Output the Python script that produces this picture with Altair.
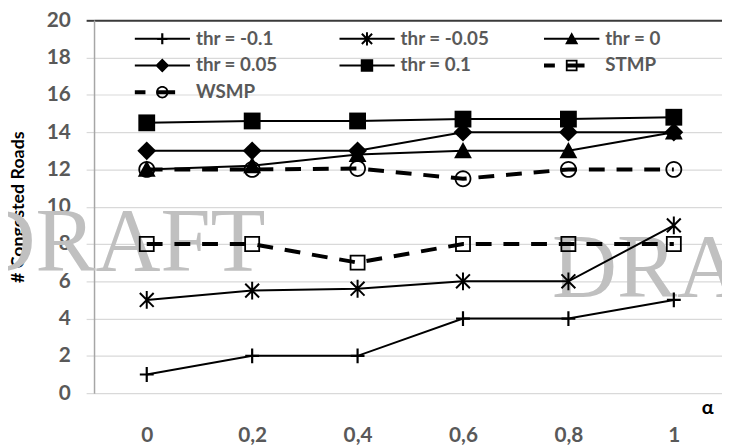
import math
import altair as alt
import pandas as pd

# ---------------- data ----------------
alphas = [0, 0.2, 0.4, 0.6, 0.8, 1.0]
series_names = ["thr = -0.1", "thr = -0.05", "thr = 0", "thr = 0.05",
                "thr = 0.1", "STMP", "WSMP"]
thr_m010 = [1, 2, 2, 4, 4, 5]
thr_m005 = [5, 5.5, 5.6, 6, 6, 9]
thr_000 = [12, 12.2, 12.8, 13, 13, 14]
thr_005 = [13, 13, 13, 14, 14, 14]
thr_010 = [14.5, 14.6, 14.6, 14.7, 14.7, 14.8]
stmp = [8, 8, 7, 8, 8, 8]
wsmp = [12, 12, 12.05, 11.5, 12, 12]
series_values = [thr_m010, thr_m005, thr_000, thr_005, thr_010, stmp, wsmp]
dashed_series = ["STMP", "WSMP"]
y_ticks = list(range(0, 21, 2))
x_ticks = alphas
watermark = "DRAFT"

rows = []
for name, vals in zip(series_names, series_values):
    for a, v in zip(alphas, vals):
        rows.append({"alpha": a, "value": v, "series": name})
df = pd.DataFrame(rows)

# ---------------- marker path helpers (style only) ----------------
def _area(p):
    n = len(p)
    return sum(p[i][0] * p[(i + 1) % n][1] - p[(i + 1) % n][0] * p[i][1] for i in range(n))

def _path(p, u, hole=False):
    a = _area(p)
    if (a < 0) != hole:
        p = p[::-1]
    return "M" + "L".join(f"{x / u:.4f},{y / u:.4f}" for x, y in p) + "Z"

def rect(x0, y0, x1, y1):
    return [(x0, y0), (x1, y0), (x1, y1), (x0, y1)]

def seg(xa, ya, xb, yb, w):
    dx, dy = xb - xa, yb - ya
    L = math.hypot(dx, dy)
    nx, ny = -dy / L * w / 2, dx / L * w / 2
    return [(xa + nx, ya + ny), (xb + nx, yb + ny), (xb - nx, yb - ny), (xa - nx, ya - ny)]

def circ(r, n=40):
    return [(r * math.cos(2 * math.pi * i / n), r * math.sin(2 * math.pi * i / n)) for i in range(n)]

def build(parts, holes, u):
    return "".join(_path(p, u) for p in parts) + "".join(_path(h, u, hole=True) for h in holes)

def marker_parts(k, s):
    if k == 0:
        return [rect(-7 * s, -1.1, 7 * s, 1.1), rect(-1.1, -7.5 * s, 1.1, 7.5 * s)], []
    if k == 1:
        return [seg(-7 * s, -7 * s, 7 * s, 7 * s, 2), seg(-7 * s, 7 * s, 7 * s, -7 * s, 2),
                rect(-1, -9 * s, 1, 9 * s)], []
    if k == 2:
        return [[(0, -9 * s), (9 * s, 7.5 * s), (-9 * s, 7.5 * s)]], []
    if k == 3:
        return [[(0, -9.5 * s), (9.5 * s, 0), (0, 9.5 * s), (-9.5 * s, 0)]], []
    if k == 4:
        return [rect(-8.5 * s, -8.5 * s, 8.5 * s, 8.5 * s)], []
    if k == 5:
        return [rect(-8 * s, -8 * s, 8 * s, 8 * s)], [rect(-8 * s + 1.8, -8 * s + 1.8, 8 * s - 1.8, 8 * s - 1.8)]
    return [circ(8.5 * s)], [circ(8.5 * s - 1.8)]

U_CHART = 10.0           # px per path unit for chart markers (size = (2u)^2)
U_LEG = 28.0             # px per path unit for legend symbols
chart_shapes, legend_shapes = [], []
for k, name in enumerate(series_names):
    parts, holes = marker_parts(k, 1.0)
    chart_shapes.append(build(parts, holes, U_CHART))
    lparts, lholes = marker_parts(k, 0.74)
    if name in dashed_series:
        lines = [rect(-28, -2, -17, 2), rect(-5, -2, 13, 2)]
    else:
        lines = [rect(-28, -1, 28, 1)]
    legend_shapes.append(build(lines + lparts, lholes, U_LEG))

# ---------------- chart ----------------
FONT = "Lato"
GRAY = "#595959"

x_enc = alt.X("alpha:Q",
              scale=alt.Scale(domain=[-0.1, 1.0914], nice=False, zero=False),
              axis=alt.Axis(values=x_ticks, format=".1~f",
                            labelExpr="replace(datum.label, '.', ',')",
                            grid=False, domain=False, ticks=False, tickSize=0,
                            labelFont=FONT, labelFontWeight="bold", labelFontSize=21,
                            labelColor=GRAY, labelPadding=43, labelBaseline="middle",
                            title="α", titleFont=FONT, titleFontWeight="bold",
                            titleFontSize=20, titleColor="black", titleX=620, titleY=15,
                            titleAlign="center", titleBaseline="middle", titleAngle=0))

is_top = "datum.value === 20"
y_enc = alt.Y("value:Q",
              scale=alt.Scale(domain=[0, 20], nice=False),
              axis=alt.Axis(values=y_ticks, grid=True,
                            gridColor={"condition": {"test": is_top, "value": "#3a3a3a"}, "value": "#d9d9d9"},
                            gridWidth={"condition": {"test": is_top, "value": 2}, "value": 1.2},
                            tickColor={"condition": {"test": is_top, "value": "#3a3a3a"}, "value": "#d9d9d9"},
                            tickWidth={"condition": {"test": is_top, "value": 2}, "value": 1.2},
                            tickSize=8, domainColor="#a6a6a6", domainWidth=1.5,
                            labelFont=FONT, labelFontWeight="bold", labelFontSize=21,
                            labelColor=GRAY, labelPadding=16,
                            title="# Congested Roads", titleFont=FONT, titleFontWeight="bold",
                            titleFontSize=18, titleColor="black", titlePadding=19))

wm_left = alt.Chart(alt.Data(values=[{}])).mark_text(
    text=watermark, font="Liberation Serif", fontSize=91, color="#c0c0c0",
    align="left", baseline="alphabetic").encode(x=alt.value(-125), y=alt.value(254))
wm_right = alt.Chart(alt.Data(values=[{}])).mark_text(
    text=watermark, font="Liberation Serif", fontSize=91, color="#c0c0c0",
    align="left", baseline="alphabetic").encode(x=alt.value(463), y=alt.value(280))

base = alt.Chart(df)

solid_lines = base.transform_filter(
    alt.FieldOneOfPredicate(field="series", oneOf=[s for s in series_names if s not in dashed_series])
).mark_line(color="black", strokeWidth=2).encode(x=x_enc, y=y_enc, detail="series:N")

dashed_lines = base.transform_filter(
    alt.FieldOneOfPredicate(field="series", oneOf=dashed_series)
).mark_line(color="black", strokeWidth=4, strokeDash=[16, 12]).encode(
    x=x_enc, y=y_enc, detail="series:N")

points = base.mark_point(filled=True, color="black", opacity=1, strokeWidth=0,
                         size=(2 * U_CHART) ** 2).encode(
    x=x_enc, y=y_enc,
    shape=alt.Shape("series:N", scale=alt.Scale(domain=series_names, range=chart_shapes),
                    legend=None))

legend_layer = base.mark_point(filled=True, color="black", opacity=0, strokeWidth=0).encode(
    x=x_enc, y=y_enc,
    shape=alt.Shape("series:N", scale=alt.Scale(domain=series_names, range=legend_shapes),
                    legend=alt.Legend(title=None, orient="none", legendX=41, legendY=8.7,
                                      direction="horizontal",
                                      columns=3, gridAlign="all", columnPadding=55,
                                      rowPadding=7, padding=0, clipHeight=20,
                                      symbolSize=(2 * U_LEG) ** 2, symbolOpacity=1,
                                      symbolFillColor="black", symbolStrokeWidth=0,
                                      labelOffset=6, labelFont=FONT, labelFontWeight="bold",
                                      labelFontSize=19, labelColor=GRAY, labelLimit=300)))

chart = alt.layer(wm_left, wm_right, solid_lines, dashed_lines, points, legend_layer).resolve_scale(
    shape="independent"
).properties(
    width=635, height=377,
    autosize=alt.AutoSizeParams(type="none"),
    padding={"left": 87, "top": 10, "right": 0, "bottom": 50},
).configure_view(stroke=None)

chart.save("out.html", embed_options={"renderer": "svg", "actions": False})
